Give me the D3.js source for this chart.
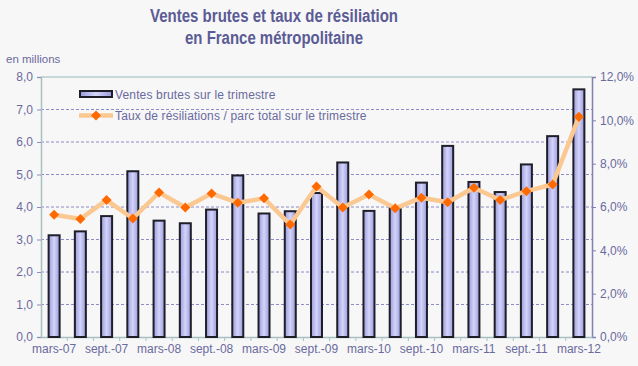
<!DOCTYPE html>
<html>
<head>
<meta charset="utf-8">
<script src="https://cdn.jsdelivr.net/npm/d3@7"></script>
<style>
  body { margin: 0; background: #f7f7f7; }
  text { font-family: Arial, "Liberation Sans", sans-serif; }
</style>
</head>
<body>
<div id="chart"></div>
<script>
// Trimestres de mars-07 à mars-12
const trimestres = ["mars-07", "juin-07", "sept.-07", "déc.-07", "mars-08", "juin-08", "sept.-08", "déc.-08",
  "mars-09", "juin-09", "sept.-09", "déc.-09", "mars-10", "juin-10", "sept.-10", "déc.-10",
  "mars-11", "juin-11", "sept.-11", "déc.-11", "mars-12"];

// Ventes brutes (en millions)
const ventesBrutes = [3.13, 3.25, 3.72, 5.1, 3.58, 3.5, 3.92, 4.97, 3.8, 3.87, 4.43, 5.37,
  3.88, 4.0, 4.75, 5.88, 4.77, 4.46, 5.31, 6.18, 7.62];

// Taux de résiliation (%)
const tauxResiliation = [5.64, 5.45, 6.32, 5.47, 6.67, 5.98, 6.62, 6.2, 6.4, 5.19, 6.95, 5.98,
  6.58, 5.94, 6.43, 6.22, 6.89, 6.32, 6.73, 7.04, 10.16];

const ticksGauche = [0, 1, 2, 3, 4, 5, 6, 7, 8];
const ticksDroite = [0, 2, 4, 6, 8, 10, 12];

const width = 638;
const height = 366;
const margin = { top: 77, right: 46, bottom: 29, left: 41 };
const innerW = width - margin.left - margin.right;
const innerH = height - margin.top - margin.bottom;

const titreCouleur = "#5b5b95";
const texteCouleur = "#6a6a9e";

const svg = d3.select("#chart").append("svg")
  .attr("width", width)
  .attr("height", height)
  .style("background", "#f7f7f7");

// Dégradé des barres
const defs = svg.append("defs");
const grad = defs.append("linearGradient").attr("id", "barGrad")
  .attr("x1", "0%").attr("x2", "100%").attr("y1", "0%").attr("y2", "0%");
grad.append("stop").attr("offset", "0%").attr("stop-color", "#9a9ada");
grad.append("stop").attr("offset", "50%").attr("stop-color", "#d4d4fb");
grad.append("stop").attr("offset", "100%").attr("stop-color", "#9a9ada");

// Titre
svg.append("text")
  .attr("x", 274).attr("y", 22)
  .attr("text-anchor", "middle")
  .attr("font-size", 18).attr("font-weight", "bold")
  .attr("fill", titreCouleur)
  .attr("textLength", 248).attr("lengthAdjust", "spacingAndGlyphs")
  .text("Ventes brutes et taux de résiliation");
svg.append("text")
  .attr("x", 274).attr("y", 44)
  .attr("text-anchor", "middle")
  .attr("font-size", 18).attr("font-weight", "bold")
  .attr("fill", titreCouleur)
  .attr("textLength", 178).attr("lengthAdjust", "spacingAndGlyphs")
  .text("en France métropolitaine");

svg.append("text")
  .attr("x", 6).attr("y", 63)
  .attr("font-size", 11.5)
  .attr("fill", texteCouleur)
  .text("en millions");

const g = svg.append("g").attr("transform", `translate(${margin.left},${margin.top})`);

const x = d3.scaleBand().domain(trimestres).range([0, innerW]);
const yG = d3.scaleLinear().domain([0, 8]).range([innerH, 0]);
const yD = d3.scaleLinear().domain([0, 12]).range([innerH, 0]);

// Grille
g.selectAll(".grid")
  .data(ticksGauche.filter(d => d > 0 && d < 8))
  .enter().append("line")
  .attr("x1", 0).attr("x2", innerW)
  .attr("y1", d => yG(d)).attr("y2", d => yG(d))
  .attr("stroke", "#8c8cc8")
  .attr("stroke-width", 1)
  .attr("stroke-dasharray", "3,2");

// Bord supérieur
g.append("line")
  .attr("x1", 0).attr("x2", innerW).attr("y1", 0).attr("y2", 0)
  .attr("stroke", "#b4cccc").attr("stroke-width", 1.5);

// Axe gauche
const axeG = g.append("g")
  .call(d3.axisLeft(yG).tickValues(ticksGauche).tickSize(4).tickFormat(d => d3.format(".1f")(d).replace(".", ",")));
axeG.select(".domain").attr("stroke", "#a8c0c0").attr("stroke-width", 1.5);
axeG.selectAll(".tick line").attr("stroke", "#8c8cc0");
axeG.selectAll("text").attr("fill", texteCouleur).attr("font-size", 12).attr("x", -8);

// Axe droit
const axeD = g.append("g").attr("transform", `translate(${innerW},0)`)
  .call(d3.axisRight(yD).tickValues(ticksDroite).tickSize(4).tickFormat(d => d3.format(".1f")(d).replace(".", ",") + "%"));
axeD.select(".domain").attr("stroke", "#8080b4").attr("stroke-width", 1.5);
axeD.selectAll(".tick line").attr("stroke", "#8080b4");
axeD.selectAll("text").attr("fill", texteCouleur).attr("font-size", 12).attr("x", 8);

// Axe des abscisses
const axeX = g.append("g").attr("transform", `translate(0,${innerH})`)
  .call(d3.axisBottom(x).tickSize(0).tickFormat((d, i) => i % 2 === 0 ? d : ""));
axeX.select(".domain").attr("stroke", "#a8c0c0").attr("stroke-width", 1.5);
axeX.selectAll("text").attr("fill", texteCouleur).attr("font-size", 12).attr("dy", "1.1em");

// Petites graduations entre les trimestres
g.selectAll(".xtick")
  .data(trimestres.slice(1))
  .enter().append("line")
  .attr("x1", d => x(d)).attr("x2", d => x(d))
  .attr("y1", innerH).attr("y2", innerH + 4)
  .attr("stroke", "#a8c0c0");

// Barres
const barW = 11;
g.selectAll(".bar")
  .data(trimestres)
  .enter().append("rect")
  .attr("x", d => x(d) + x.bandwidth() / 2 - barW / 2)
  .attr("y", (d, i) => yG(ventesBrutes[i]))
  .attr("width", barW)
  .attr("height", (d, i) => innerH - yG(ventesBrutes[i]))
  .attr("fill", "url(#barGrad)")
  .attr("stroke", "#1e1e28")
  .attr("stroke-width", 2);

// Courbe
const line = d3.line()
  .x((d, i) => x(trimestres[i]) + x.bandwidth() / 2)
  .y(d => yD(d));
g.append("path")
  .datum(tauxResiliation)
  .attr("d", line)
  .attr("fill", "none")
  .attr("stroke", "#fbc892")
  .attr("stroke-width", 4.5)
  .attr("stroke-linejoin", "round");

const diamond = d3.symbol().type(d3.symbolDiamond2).size(64);
g.selectAll(".pt")
  .data(tauxResiliation)
  .enter().append("path")
  .attr("d", diamond)
  .attr("transform", (d, i) => `translate(${x(trimestres[i]) + x.bandwidth() / 2},${yD(d)})`)
  .attr("fill", "#ff6a00");

// Légende
const legend = svg.append("g");
legend.append("rect")
  .attr("x", 80).attr("y", 91).attr("width", 32).attr("height", 6)
  .attr("fill", "url(#barGrad)").attr("stroke", "#1e1e28").attr("stroke-width", 2);
legend.append("text")
  .attr("x", 115).attr("y", 98.5)
  .attr("font-size", 12).attr("fill", texteCouleur)
  .attr("letter-spacing", 0.15)
  .text("Ventes brutes sur le trimestre");
legend.append("line")
  .attr("x1", 79).attr("x2", 113).attr("y1", 115.5).attr("y2", 115.5)
  .attr("stroke", "#fbc892").attr("stroke-width", 4.5);
legend.append("path")
  .attr("d", diamond)
  .attr("transform", "translate(96,115.5)")
  .attr("fill", "#ff6a00");
legend.append("text")
  .attr("x", 115).attr("y", 120)
  .attr("font-size", 12).attr("fill", texteCouleur)
  .attr("letter-spacing", 0.15)
  .text("Taux de résiliations / parc total sur le trimestre");
</script>
</body>
</html>
